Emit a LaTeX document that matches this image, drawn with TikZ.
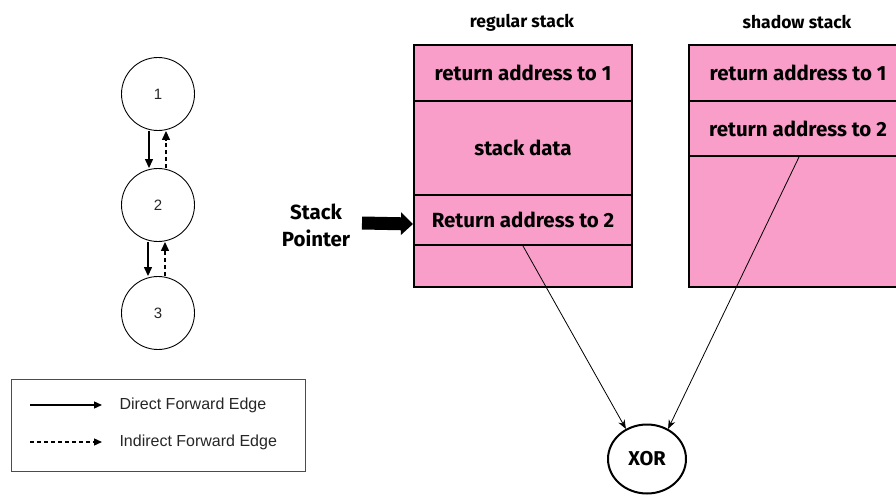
\documentclass[tikz,border=0pt]{standalone}
\usepackage{fontspec}
\setmainfont{Liberation Sans}
\newfontfamily\boldfam{Fira Sans}
\usetikzlibrary{arrows.meta,shapes.geometric}
\definecolor{stackpink}{RGB}{248,158,201}
\begin{document}
\begin{tikzpicture}[x=1pt,y=-1pt,
  cfg/.style={circle,draw,line width=0.9pt,minimum size=73pt,inner sep=0pt,font=\fontsize{15}{17}\selectfont,text=black!85},
  cell/.style={rectangle,draw,line width=2pt,fill=stackpink,minimum width=218pt,inner sep=0pt,anchor=north west,font=\boldfam\bfseries\fontsize{20.5}{24}\selectfont},
  ttl/.style={font=\boldfam\bfseries\fontsize{17.5}{20}\selectfont},
  dfe/.style={line width=1.3pt,-{Triangle[length=9pt,width=8pt]}},
  ife/.style={line width=1.3pt,dashed,dash pattern=on 4pt off 3pt,-{Triangle[length=9pt,width=8pt]}},
  xarr/.style={line width=0.8pt,-{Stealth[length=9pt,width=7pt]}}]
\useasboundingbox (0,0) rectangle (896,495);
\begin{scope}
\clip (0,0) rectangle (896,495);
% control flow graph
\node[cfg] (n1) at (158,94) {1};
\node[cfg] (n2) at (158,205) {2};
\node[cfg] (n3) at (158,313) {3};
\draw[dfe] ([xshift=-9pt]n1.south) -- ([xshift=-9pt]n2.north);
\draw[ife] ([xshift=8pt]n2.north) -- ([xshift=8pt]n1.south);
\draw[dfe] ([xshift=-10pt]n2.south) -- ([xshift=-10pt]n3.north);
\draw[ife] ([xshift=7pt]n3.north) -- ([xshift=7pt]n2.south);
% legend
\node[draw=black!70,line width=1pt,minimum width=294pt,minimum height=92pt,anchor=north west,inner sep=0pt] (leg) at (11,379) {};
\coordinate (l1a) at (30,405);
\coordinate (l1b) at (102,405);
\coordinate (l2a) at (30,442);
\coordinate (l2b) at (102,442);
\draw[dfe,-{Triangle[length=8pt,width=7pt]}] (l1a) -- (l1b);
\draw[ife,-{Triangle[length=8pt,width=7pt]}] (l2a) -- (l2b);
\node[anchor=west,font=\fontsize{16}{18}\selectfont,text=black!85] (t1) at (116,405) {Direct Forward Edge};
\node[anchor=west,font=\fontsize{16}{18}\selectfont,text=black!85] (t2) at (116,442) {Indirect Forward Edge};
% regular stack
\node[ttl] (rt) at (522,23) {regular stack};
\node[cell,minimum height=56pt] (r1) at (413,44) {return address to 1};
\node[cell,minimum height=94pt] (r2) at (413,100) {stack data};
\node[cell,minimum height=50pt] (r3) at (413,194) {Return address to 2};
\node[cell,minimum height=42pt] (r4) at (413,244) {};
% shadow stack
\node[ttl] (st) at (797,22) {shadow stack};
\node[cell,minimum height=56pt] (s1) at (688,44) {return address to 1};
\node[cell,minimum height=55pt] (s2) at (688,100) {return address to 2};
\node[cell,minimum height=131pt] (s3) at (688,155) {};
% stack pointer
\node[font=\boldfam\bfseries\fontsize{20.5}{27}\selectfont,align=center] (sp) at (316,225) {Stack\\Pointer};
\draw[line width=13pt,-{Triangle[length=12pt,width=22pt]}] (362,223) -- ([yshift=-4pt]r3.west);
% XOR
\node[ellipse,draw,line width=2pt,minimum width=78pt,minimum height=69pt,inner sep=0pt,font=\boldfam\bfseries\fontsize{20}{24}\selectfont] (xor) at (647,459) {XOR};
\draw[xarr] ([xshift=-110pt]r3.south east) -- (xor.125);
\draw[xarr] ([xshift=-109pt]s2.south east) -- (xor.55);
\end{scope}
\end{tikzpicture}
\end{document}
